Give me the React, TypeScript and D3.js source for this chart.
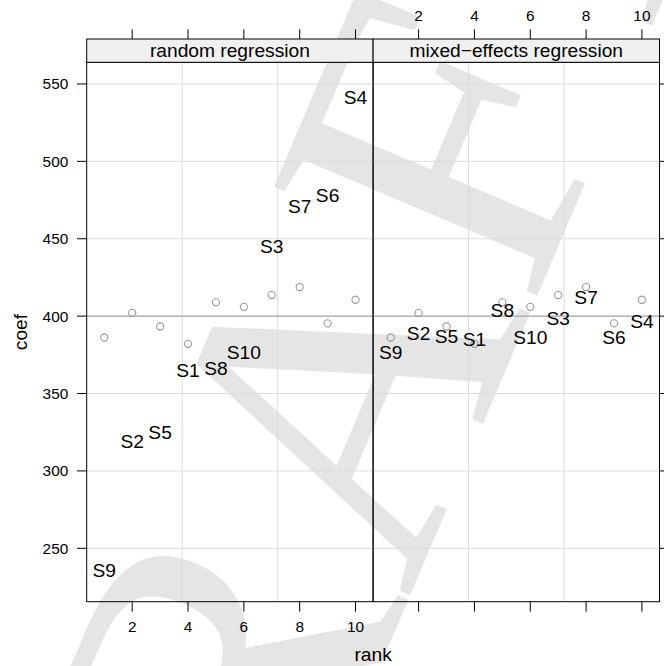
import React from "react";
import * as d3 from "d3";

const subjects = ["S9", "S2", "S5", "S1", "S8", "S10", "S3", "S7", "S6", "S4"];
const ranks = [1, 2, 3, 4, 5, 6, 7, 8, 9, 10];
const trueCoef = [386.2, 402.1, 393.3, 382.1, 408.9, 406.0, 413.6, 418.8, 395.3, 410.6];
const randomCoef = [236.0, 319.3, 324.9, 365.2, 366.3, 376.6, 445.3, 471.2, 478.3, 541.4];
const mixedCoef = [376.9, 389.2, 387.1, 384.9, 403.9, 386.2, 398.9, 412.5, 386.6, 397.0];
const panelNames = ["random regression", "mixed\u2212effects regression"];
const xTicks = [2, 4, 6, 8, 10];
const yTicks = [250, 300, 350, 400, 450, 500, 550];
const refLine = 400;

const W = 664;
const H = 666;
const P0 = 86.7;
const PW = 286.4;
const TOP = 62.3;
const BOT = 601.7;
const STRIP = 39;
const FONT = "'Liberation Sans', Arial, Helvetica, sans-serif";

export default function App() {
  const y = d3.scaleLinear().domain([215.5, 564]).range([BOT, TOP]);
  const panels = [randomCoef, mixedCoef];
  const tickFs = 15.4;
  const labFs = 19.2;
  return (
    <svg
      width={W}
      height={H}
      style={{ position: "absolute", left: 0, top: 0, background: "#fff" }}
      fontFamily={FONT}
    >
      <text
        transform={`translate(451,499) rotate(-67)`}
        textAnchor="middle"
        fontFamily="'Liberation Serif', 'Times New Roman', serif"
        fontSize={435}
        fill="#e5e5e5"
      >
        DRAFT
      </text>
      {panels.map((vals, pi) => {
        const left = P0 + pi * PW;
        const x = d3.scaleLinear().domain([0.37, 10.63]).range([left, left + PW]);
        return (
          <g key={pi}>
            {yTicks.map((t) => (
              <line key={"h" + t} x1={left} x2={left + PW} y1={y(t)} y2={y(t)} stroke="#dcdcdc" strokeWidth={1} />
            ))}
            {[1, 2].map((k) => (
              <line key={"v" + k} x1={left + (PW * k) / 3} x2={left + (PW * k) / 3} y1={TOP} y2={BOT} stroke="#dcdcdc" strokeWidth={1} />
            ))}
            <line x1={left} x2={left + PW} y1={y(refLine)} y2={y(refLine)} stroke="#9a9a9a" strokeWidth={1} />
            {ranks.map((r, i) => (
              <circle key={"c" + i} cx={x(r)} cy={y(trueCoef[i])} r={3.6} fill="none" stroke="#9a9a9a" strokeWidth={1.1} />
            ))}
            {ranks.map((r, i) => (
              <text key={"t" + i} x={x(r)} y={y(vals[i])} dy={labFs * 0.358} textAnchor="middle" fontSize={labFs} fill="#000">
                {subjects[i]}
              </text>
            ))}
            <rect x={left} y={TOP} width={PW} height={BOT - TOP} fill="none" stroke="#000" strokeWidth={1} />
            <rect x={left} y={STRIP} width={PW} height={TOP - STRIP} fill="#f0f0f0" stroke="#000" strokeWidth={1} />
            <text x={left + PW / 2} y={(STRIP + TOP) / 2} dy={labFs * 0.33} textAnchor="middle" fontSize={labFs}>
              {panelNames[pi]}
            </text>
            {xTicks.map((t) => (
              <g key={"xt" + t}>
                <line x1={x(t)} x2={x(t)} y1={STRIP} y2={STRIP - 9.7} stroke="#000" />
                <line x1={x(t)} x2={x(t)} y1={BOT} y2={BOT + 10} stroke="#000" />
                {pi === 0 ? (
                  <text x={x(t)} y={632.3} textAnchor="middle" fontSize={tickFs}>{t}</text>
                ) : (
                  <text x={x(t)} y={20.9} textAnchor="middle" fontSize={tickFs}>{t}</text>
                )}
              </g>
            ))}
          </g>
        );
      })}
      {yTicks.map((t) => (
        <g key={"yt" + t}>
          <line x1={P0 - 9.7} x2={P0} y1={y(t)} y2={y(t)} stroke="#000" />
          <line x1={P0 + 2 * PW} x2={P0 + 2 * PW + 9.7} y1={y(t)} y2={y(t)} stroke="#000" />
          <text x={68.3} y={y(t)} dy={tickFs * 0.358} textAnchor="end" fontSize={tickFs}>{t}</text>
        </g>
      ))}
      <text x={P0 + PW} y={661} textAnchor="middle" fontSize={labFs}>rank</text>
      <text transform={`translate(27,${(TOP + BOT) / 2}) rotate(-90)`} textAnchor="middle" fontSize={labFs}>coef</text>
    </svg>
  );
}
